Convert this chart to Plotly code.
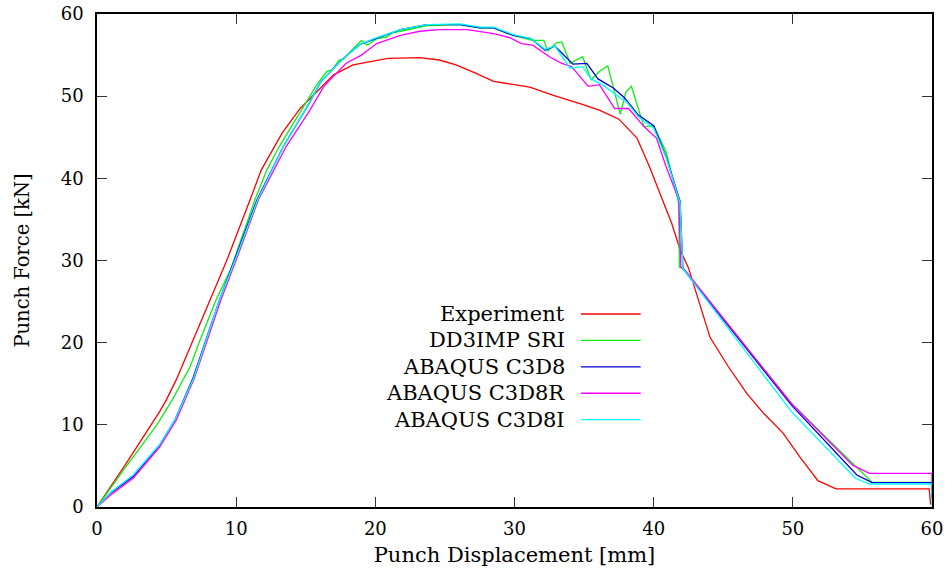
import plotly.graph_objects as go

# ---- data ----
names = ["Experiment", "DD3IMP SRI", "ABAQUS C3D8", "ABAQUS C3D8R", "ABAQUS C3D8I"]
colors = ["#ff0000", "#11ee11", "#0000d8", "#ff00ff", "#00ffff"]

exp_x = [0, 2.1, 4.5, 5.0, 5.7, 6.9, 8.1, 9.3, 11.0, 11.8, 13.3, 14.6, 17.0, 18.4, 20.9, 22.2, 23.2,
         24.6, 25.8, 27.2, 28.5, 31.1, 32.8, 34.7, 36.1, 37.5, 38.8, 39.7, 40.6, 41.3, 41.9, 42.5,
         44.05, 45.36, 46.7, 47.9, 49.3, 50.5, 51.8, 53.1, 59.8, 59.9]
exp_y = [0, 5.3, 11.6, 13.1, 15.5, 20.3, 25.2, 29.9, 37.4, 41.0, 45.5, 48.5, 52.6, 53.8, 54.6, 54.7, 54.7,
         54.4, 53.8, 52.8, 51.8, 51.1, 50.1, 49.1, 48.3, 47.2, 44.9, 41.4, 37.4, 34.5, 31.3, 29.1,
         20.65, 17.1, 13.8, 11.4, 9.0, 6.1, 3.2, 2.2, 2.2, 0.3]

dd3_x = [0, 1.9, 4.3, 5.4, 6.7, 7.4, 8.55, 9.6, 11.35, 12.2, 13.1, 14.8, 15.8, 16.5, 16.9, 17.4, 17.7,
         18.2, 19.0, 19.4, 20.1, 20.8, 21.2, 21.8, 23.7, 26.1, 27.5, 28.5, 29.9, 30.4, 31.3, 32.1,
         32.4, 33.0, 33.4, 34.0, 34.9, 35.5, 36.1, 36.7, 37.6, 38.0, 38.4, 39.3, 40.0, 40.9, 41.8,
         41.85, 42.2, 49.9, 54.4, 55.7, 60, 60]
dd3_y = [0, 4.5, 10.0, 13.0, 17.1, 20.3, 25.2, 28.9, 37.4, 41.0, 43.9, 48.7, 51.4, 53.0, 53.2, 54.4, 54.5,
         55.4, 56.8, 56.2, 57.0, 57.2, 57.7, 57.9, 58.6, 58.7, 58.3, 58.3, 57.4, 57.2, 56.8, 56.8,
         55.5, 56.5, 56.6, 54.0, 54.8, 52.0, 53.0, 53.7, 47.8, 50.5, 51.2, 46.3, 46.4, 43.2, 37.0,
         29.2, 28.9, 12.6, 5.2, 3.0, 3.0, 1.0]

c3d8_x = [0, 0.9, 2.6, 4.5, 5.6, 6.9, 8.8, 10.0, 11.5, 13.4, 15.1, 16.1, 17.7, 18.9, 19.9, 21.8, 23.7,
          26.1, 27.5, 28.5, 29.9, 31.2, 32.2, 32.9, 34.2, 35.2, 36.0, 37.1, 37.9, 38.9, 40.0, 40.9,
          41.9, 42.1, 49.9, 54.6, 55.7, 60, 60]
c3d8_y = [0, 1.6, 3.7, 7.5, 10.6, 15.7, 25.2, 30.6, 37.4, 43.9, 48.7, 51.8, 54.6, 56.3, 56.9, 58.1, 58.7,
          58.7, 58.3, 58.3, 57.4, 57.0, 55.6, 56.1, 53.9, 54.0, 52.1, 51.0, 49.8, 47.7, 46.4, 42.6,
          37.2, 29.0, 12.4, 3.9, 2.96, 2.96, 1.1]

c3d8r_x = [0, 1.0, 2.6, 4.5, 5.7, 7.0, 8.9, 10.1, 11.6, 13.6, 15.3, 16.3, 17.9, 19.0, 20.1, 21.8, 23.2,
           24.6, 26.6, 28.5, 29.7, 30.5, 31.3, 32.6, 33.4, 34.1, 35.3, 36.1, 37.2, 38.2, 39.3, 40.2,
           40.9, 41.8, 41.95, 42.2, 49.9, 54.3, 55.5, 60, 60]
c3d8r_y = [0, 1.5, 3.5, 7.3, 10.6, 15.7, 25.2, 30.5, 37.4, 43.9, 48.3, 51.2, 54.0, 55.0, 56.4, 57.4, 57.9,
           58.1, 58.1, 57.6, 57.1, 56.4, 56.2, 54.7, 54.0, 53.6, 51.2, 51.4, 48.5, 48.5, 46.3, 44.9,
           41.4, 37.4, 29.2, 28.9, 12.6, 5.1, 4.1, 4.1, 3.0]

c3d8i_x = [0, 1.0, 2.6, 4.5, 5.6, 6.95, 8.8, 10.05, 11.55, 13.4, 15.1, 16.1, 17.7, 18.9, 19.9, 21.8, 23.7,
           26.1, 27.5, 28.5, 29.9, 30.4, 31.2, 32.2, 32.9, 34.0, 34.9, 35.5, 36.3, 37.2, 38.1, 38.9,
           40.0, 40.9, 41.9, 42.1, 49.9, 54.5, 55.5, 60, 60]
c3d8i_y = [0, 1.8, 3.9, 7.6, 10.6, 15.7, 25.2, 30.6, 37.4, 43.9, 48.7, 51.8, 54.6, 56.3, 57.0, 58.1, 58.7,
           58.8, 58.4, 58.4, 57.5, 57.3, 57.0, 55.7, 56.1, 53.4, 53.6, 52.1, 51.4, 50.3, 49.2, 47.5,
           46.1, 42.5, 37.0, 29.0, 11.6, 3.5, 2.8, 2.8, 0.1]

tick_vals = [0, 10, 20, 30, 40, 50, 60]
x_title = "Punch Displacement [mm]"
y_title = "Punch Force [kN]"

series = [(exp_x, exp_y), (dd3_x, dd3_y), (c3d8_x, c3d8_y), (c3d8r_x, c3d8r_y), (c3d8i_x, c3d8i_y)]

FONT = "DejaVu Serif"

fig = go.Figure()
for (xs, ys), name, col in zip(series, names, colors):
    fig.add_trace(go.Scatter(x=xs, y=ys, mode="lines", name=name,
                             line=dict(color=col, width=1.3), showlegend=False))

# manual gnuplot-style legend: right-aligned text, sample line on the right
leg_top = 0.3915
leg_step = 0.0536
for i, (name, col) in enumerate(zip(names, colors)):
    yy = leg_top - i * leg_step
    fig.add_annotation(x=0.5629, y=yy, xref="paper", yref="paper", text=name,
                       showarrow=False, xanchor="right", yanchor="middle",
                       font=dict(family=FONT, size=21, color="black"))
    fig.add_shape(type="line", xref="paper", yref="paper", x0=0.5796, x1=0.6511,
                  y0=yy, y1=yy, line=dict(color=col, width=1.3))

axis_common = dict(range=[0, 60], tickvals=tick_vals, ticks="inside", ticklen=10, tickwidth=1.3,
                   tickcolor="#333333", showline=True, linecolor="black", linewidth=1.6,
                   mirror="ticks", showgrid=False, zeroline=False, automargin=False,
                   tickfont=dict(family=FONT, size=18, color="black"))

fig.update_layout(
    width=950, height=573,
    margin=dict(l=97, r=18, t=14, b=66, autoexpand=False),
    paper_bgcolor="white", plot_bgcolor="white",
    xaxis=dict(**axis_common, title=dict(text=x_title, font=dict(family=FONT, size=21, color="black"),
                                          standoff=9), ticklabelstandoff=5),
    yaxis=dict(**axis_common, title=dict(text=y_title, font=dict(family=FONT, size=19.5, color="black"),
                                          standoff=26), ticklabelstandoff=8),
)

fig.write_html("out.html")
